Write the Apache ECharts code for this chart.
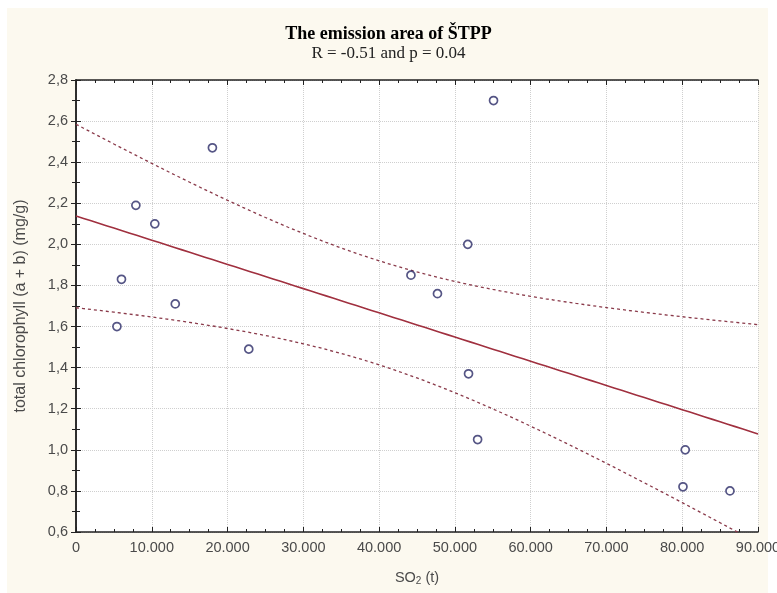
<!DOCTYPE html>
<html>
<head>
<meta charset="utf-8">
<script src="https://cdn.jsdelivr.net/npm/echarts@6/dist/echarts.min.js"></script>
<style>html,body{margin:0;padding:0;background:#fff;}#c{width:777px;height:593px;}</style>
</head>
<body>
<div id="c"></div>
<script>
// SO2 emissions (t)
var so2 = [5400, 6000, 13100, 22800, 7900, 10400, 18000, 55100, 51700, 44200, 47700, 51800, 53000, 80400, 80100, 86300];
// total chlorophyll (a + b) (mg/g)
var chl = [1.60, 1.83, 1.71, 1.49, 2.19, 2.10, 2.47, 2.70, 2.00, 1.85, 1.76, 1.37, 1.05, 1.00, 0.82, 0.80];
var xTicks = [0, 10000, 20000, 30000, 40000, 50000, 60000, 70000, 80000, 90000];
var yTicks = [0.6, 0.8, 1.0, 1.2, 1.4, 1.6, 1.8, 2.0, 2.2, 2.4, 2.6, 2.8];
var tCrit = 2.145; // t(0.975, df = 14)

// linear regression and 95% confidence band from the data
var n = so2.length, mx = 0, my = 0;
for (var i = 0; i < n; i++) { mx += so2[i]; my += chl[i]; }
mx /= n; my /= n;
var sxx = 0, sxy = 0;
for (i = 0; i < n; i++) { sxx += (so2[i]-mx)*(so2[i]-mx); sxy += (so2[i]-mx)*(chl[i]-my); }
var b = sxy / sxx, a = my - b * mx;
var sse = 0;
for (i = 0; i < n; i++) { var r = chl[i] - (a + b*so2[i]); sse += r*r; }
var s = Math.sqrt(sse / (n - 2));
var fit = [], up = [], lo = [];
var xmin = xTicks[0], xmax = xTicks[xTicks.length-1];
for (var k = 0; k <= 90; k++) {
  var x = xmin + (xmax - xmin) * k / 90;
  var yh = a + b * x;
  var h = tCrit * s * Math.sqrt(1/n + (x-mx)*(x-mx)/sxx);
  fit.push([x, yh]); up.push([x, yh + h]); lo.push([x, yh - h]);
}
var pts = so2.map(function(v, j){ return [v, chl[j]]; });

var chart = echarts.init(document.getElementById('c'));
var sans = 'Liberation Sans, Arial, sans-serif';
var labelFont = {color:'#4a4a4a', fontFamily:sans, fontSize:14.5};
function fmtX(v){ return v === 0 ? '0' : (v/1000) + '.000'; }
function fmtY(v){ return v.toFixed(1).replace('.', ','); }
chart.setOption({
  backgroundColor: '#ffffff',
  animation: false,
  graphic: [{type:'rect', left:7, top:8, shape:{width:761, height:585}, style:{fill:'#fcf9ef'}, z:-10}],
  title: {
    text: 'The emission area of ŠTPP',
    subtext: 'R = -0.51 and p = 0.04',
    left: 'center', top: 20, itemGap: 2,
    textStyle: {fontFamily:'Liberation Serif, Times New Roman, serif', fontWeight:'bold', fontSize:18, color:'#000'},
    subtextStyle: {fontFamily:'Liberation Serif, Times New Roman, serif', fontSize:17, color:'#222'}
  },
  grid: {left:76, right:19, top:80, bottom:61, show:true, backgroundColor:'#ffffff', borderWidth:0,
         containLabel:false, outerBoundsMode:'none'},
  xAxis: [{
    type:'value', min:xmin, max:xmax, interval:10000, splitNumber:9,
    name:'{a|SO}{s|2}{a| (t)}', nameLocation:'middle', nameGap:37,
    nameTextStyle:{rich:{a:{fontFamily:sans, fontSize:14.5, color:'#4a4a4a'}, s:{fontFamily:sans, fontSize:10, color:'#4a4a4a', verticalAlign:'bottom', padding:[7,0,0,0]}}},
    axisLine:{lineStyle:{color:'#222', width:1.5}},
    axisTick:{inside:true, length:5, lineStyle:{color:'#222'}},
    minorTick:{show:true, splitNumber:4, length:3, lineStyle:{color:'#222'}},
    axisLabel:Object.assign({formatter:fmtX, margin:8}, labelFont),
    splitLine:{show:true, lineStyle:{color:'#cfcfcf', type:'dotted'}}
  },{
    type:'value', position:'top', min:xmin, max:xmax, interval:10000,
    axisLine:{show:true, lineStyle:{color:'#222', width:1.5}},
    axisTick:{show:true, inside:true, length:5, lineStyle:{color:'#222'}},
    minorTick:{show:true, splitNumber:4, length:3, lineStyle:{color:'#222'}},
    axisLabel:{show:false}, splitLine:{show:false}
  }],
  yAxis: [{
    type:'value', min:yTicks[0], max:yTicks[yTicks.length-1], interval:0.2,
    name:'total chlorophyll (a + b) (mg/g)', nameLocation:'middle', nameGap:47, nameRotate:90,
    nameTextStyle:{fontFamily:sans, fontSize:16, color:'#4a4a4a'},
    axisLine:{show:true, lineStyle:{color:'#222', width:1.5}},
    axisTick:{show:true, inside:true, length:5, lineStyle:{color:'#222'}},
    minorTick:{show:true, splitNumber:2, length:4, lineStyle:{color:'#222'}},
    axisLabel:Object.assign({formatter:fmtY, margin:8}, labelFont),
    splitLine:{show:true, lineStyle:{color:'#cfcfcf', type:'dotted'}}
  },{
    type:'value', position:'right', min:yTicks[0], max:yTicks[yTicks.length-1], interval:0.2,
    axisLine:{show:true, lineStyle:{color:'#222', width:1.5}},
    axisTick:{show:true, inside:true, length:5, lineStyle:{color:'#222'}},
    minorTick:{show:true, splitNumber:2, length:4, lineStyle:{color:'#222'}},
    axisLabel:{show:false}, splitLine:{show:false}
  }],
  series: [
    {type:'line', data:up, showSymbol:false, clip:true, lineStyle:{color:'#8a3a4a', width:1.3, type:[3,3]}, z:3},
    {type:'line', data:lo, showSymbol:false, clip:true, lineStyle:{color:'#8a3a4a', width:1.3, type:[3,3]}, z:3},
    {type:'line', data:fit, showSymbol:false, clip:true, lineStyle:{color:'#a0303f', width:1.6}, z:4},
    {type:'scatter', data:pts, symbol:'circle', symbolSize:8,
     itemStyle:{color:'#ffffff', borderColor:'#2b2b66', borderWidth:1.7}, z:5}
  ]
});
</script>
</body>
</html>
